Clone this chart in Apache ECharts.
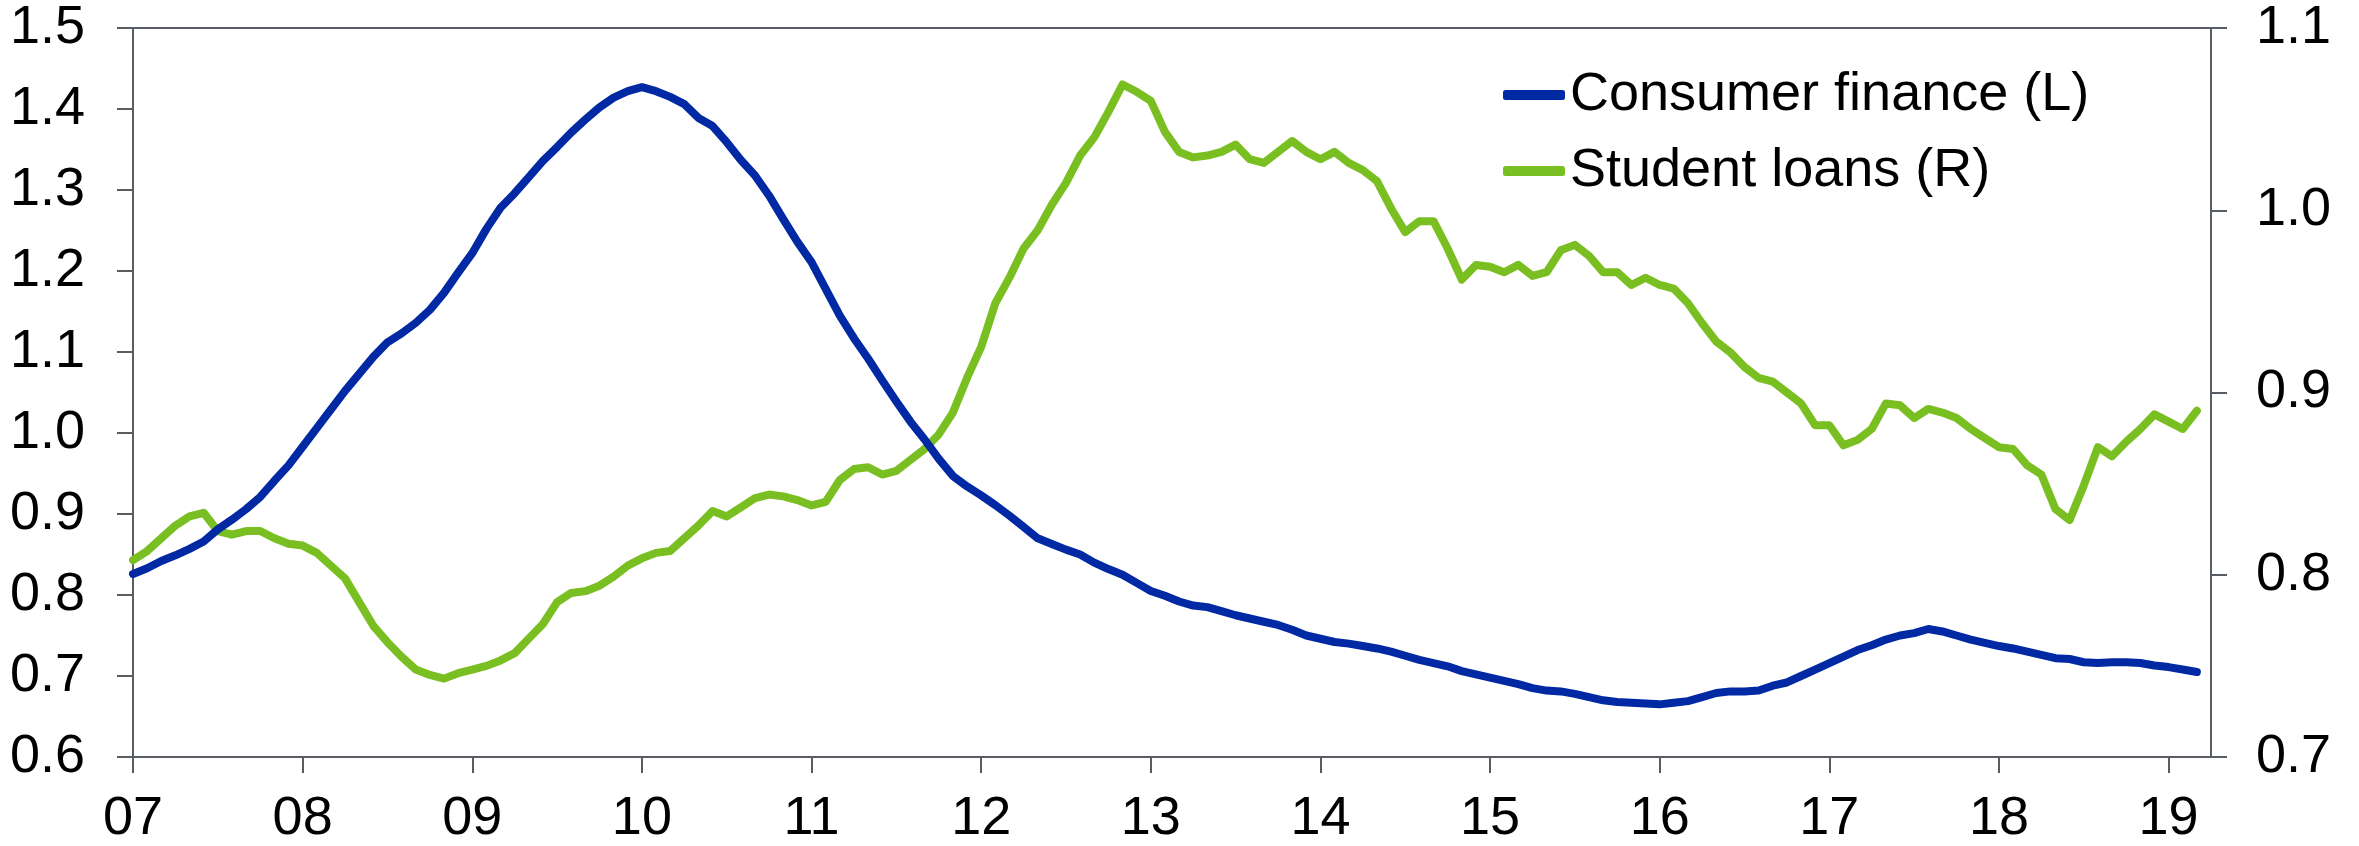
<!DOCTYPE html>
<html>
<head>
<meta charset="utf-8">
<script src="https://cdn.jsdelivr.net/npm/echarts@6/dist/echarts.min.js"></script>
<style>
html,body{margin:0;padding:0;background:#fff;}
#chart{width:2359px;height:846px;}
</style>
</head>
<body>
<div id="chart"></div>
<script>
// Year tick labels (one per January)
var yearLabels = ['07','08','09','10','11','12','13','14','15','16','17','18','19'];
// Monthly categories Jan 2007 .. Apr 2019 (last slot is the axis end)
var categories = [];
for (var y = 0; y < yearLabels.length; y++) {
  for (var mo = 1; mo <= 12; mo++) {
    categories.push(yearLabels[y] + '-' + (mo < 10 ? '0' + mo : mo));
  }
}
categories = categories.slice(0, 148);

// Consumer finance (left axis), Jan 2007 .. Mar 2019
var consumerFinance = [
0.826,0.833,0.842,0.849,0.857,0.866,0.881,0.893,0.906,0.921,0.941,0.960,
0.983,1.006,1.029,1.052,1.073,1.094,1.112,1.123,1.136,1.152,1.173,1.198,
1.222,1.252,1.278,1.296,1.316,1.336,1.353,1.371,1.387,1.402,1.414,1.422,
1.427,1.422,1.415,1.406,1.389,1.379,1.359,1.337,1.318,1.293,1.264,1.236,
1.211,1.178,1.145,1.117,1.092,1.065,1.039,1.014,0.992,0.968,0.947,0.934,
0.923,0.911,0.898,0.884,0.870,0.863,0.856,0.850,0.840,0.832,0.825,0.815,
0.805,0.799,0.792,0.787,0.785,0.780,0.775,0.771,0.767,0.763,0.757,0.750,
0.746,0.742,0.740,0.737,0.734,0.730,0.725,0.720,0.716,0.712,0.706,0.702,
0.698,0.694,0.690,0.685,0.682,0.681,0.678,0.674,0.670,0.668,0.667,0.666,
0.665,0.667,0.669,0.674,0.679,0.681,0.681,0.682,0.688,0.692,0.700,0.708,
0.716,0.724,0.732,0.738,0.745,0.750,0.753,0.758,0.755,0.750,0.745,0.741,
0.737,0.734,0.730,0.726,0.722,0.721,0.717,0.716,0.717,0.717,0.716,0.713,
0.711,0.708,0.705
];

// Student loans (right axis), Jan 2007 .. Mar 2019
var studentLoans = [
0.808,0.813,0.820,0.827,0.832,0.834,0.824,0.822,0.824,0.824,0.820,0.817,
0.816,0.812,0.805,0.798,0.785,0.772,0.763,0.755,0.748,0.745,0.743,0.746,
0.748,0.750,0.753,0.757,0.765,0.773,0.785,0.790,0.791,0.794,0.799,0.805,
0.809,0.812,0.813,0.820,0.827,0.835,0.832,0.837,0.842,0.844,0.843,0.841,
0.838,0.840,0.852,0.858,0.859,0.855,0.857,0.863,0.869,0.877,0.889,0.908,
0.925,0.949,0.963,0.979,0.989,1.003,1.015,1.030,1.040,1.054,1.069,1.065,
1.060,1.043,1.032,1.029,1.030,1.032,1.036,1.028,1.026,1.032,1.038,1.032,
1.028,1.032,1.026,1.022,1.016,1.001,0.988,0.994,0.994,0.979,0.962,0.970,
0.969,0.966,0.970,0.964,0.966,0.978,0.981,0.975,0.966,0.966,0.959,0.963,
0.959,0.957,0.949,0.938,0.928,0.922,0.914,0.908,0.906,0.900,0.894,0.882,
0.882,0.871,0.874,0.880,0.894,0.893,0.886,0.891,0.889,0.886,0.880,0.875,
0.870,0.869,0.860,0.855,0.836,0.830,0.849,0.870,0.865,0.873,0.880,0.888,
0.884,0.880,0.890
];

var seriesNames = ['Consumer finance (L)', 'Student loans (R)'];
var BLUE = '#0029a3';
var GREEN = '#79bf22';
var AXIS = '#585d63';
var FONT = "'Liberation Sans', Arial, sans-serif";

var chart = echarts.init(document.getElementById('chart'), null, {renderer: 'canvas'});

function yearTick(i) { return i % 12 === 0; }

chart.setOption({
  animation: false,
  backgroundColor: '#ffffff',
  grid: {
    left: 133, right: 148, top: 28, bottom: 87,
    show: true, borderColor: AXIS, borderWidth: 2, containLabel: false
  },
  legend: {
    orient: 'vertical',
    left: 1503, top: 68,
    itemWidth: 62, itemHeight: 10, itemGap: 22,
    padding: 0,
    textStyle: {fontSize: 54, color: '#000', fontFamily: FONT},
    data: [
      {name: seriesNames[0], icon: 'roundRect'},
      {name: seriesNames[1], icon: 'roundRect'}
    ]
  },
  xAxis: {
    type: 'category',
    data: categories,
    boundaryGap: false,
    axisLine: {lineStyle: {color: AXIS, width: 2}},
    axisTick: {show: true, inside: false, length: 16, interval: function(i){return yearTick(i);}, lineStyle: {color: AXIS, width: 2}},
    axisLabel: {
      interval: function(i){return yearTick(i);},
      formatter: function(v){ return v.split('-')[0]; },
      fontSize: 54, color: '#000', fontFamily: FONT, margin: 35
    },
    splitLine: {show: false}
  },
  yAxis: [
    {
      type: 'value', position: 'left', min: 0.6, max: 1.5, interval: 0.1,
      axisLine: {show: true, lineStyle: {color: AXIS, width: 2}},
      axisTick: {show: true, length: 16, lineStyle: {color: AXIS, width: 2}},
      axisLabel: {formatter: function(v){return v.toFixed(1);}, fontSize: 54, color: '#000', fontFamily: FONT, margin: 48},
      splitLine: {show: false}
    },
    {
      type: 'value', position: 'right', min: 0.7, max: 1.1, interval: 0.1,
      axisLine: {show: true, lineStyle: {color: AXIS, width: 2}},
      axisTick: {show: true, length: 16, lineStyle: {color: AXIS, width: 2}},
      axisLabel: {formatter: function(v){return v.toFixed(1);}, fontSize: 54, color: '#000', fontFamily: FONT, margin: 45},
      splitLine: {show: false}
    }
  ],
  series: [
    {
      name: seriesNames[0], type: 'line', yAxisIndex: 0,
      data: consumerFinance, showSymbol: false, symbol: 'none',
      lineStyle: {color: BLUE, width: 8, cap: 'round', join: 'round'},
      itemStyle: {color: BLUE}, z: 3
    },
    {
      name: seriesNames[1], type: 'line', yAxisIndex: 1,
      data: studentLoans, showSymbol: false, symbol: 'none',
      lineStyle: {color: GREEN, width: 8, cap: 'round', join: 'round'},
      itemStyle: {color: GREEN}, z: 2
    }
  ]
});
</script>
</body>
</html>
